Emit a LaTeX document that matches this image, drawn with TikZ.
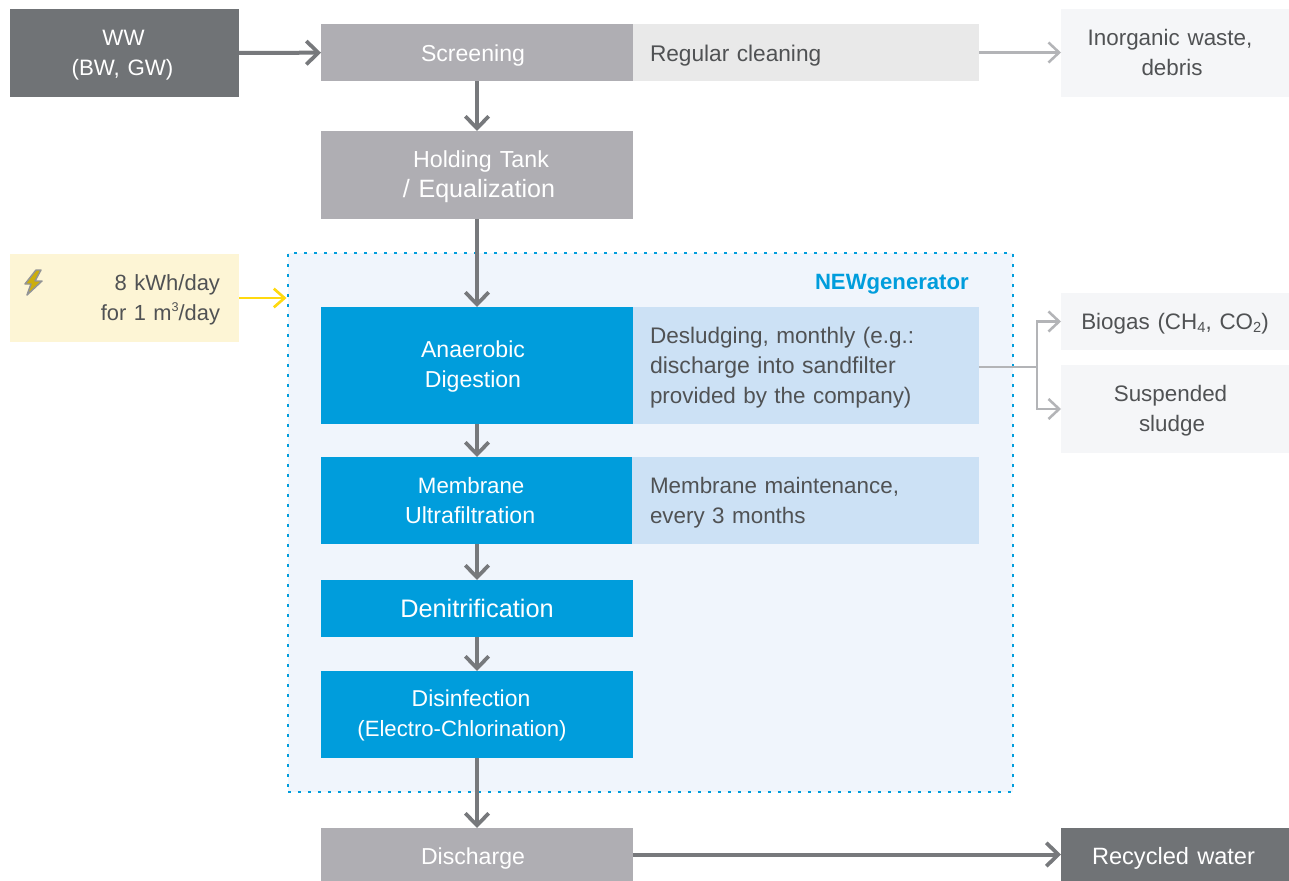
\documentclass[tikz,border=0pt]{standalone}
\usepackage{fontspec}
\setmainfont[WordSpace=1.25]{Liberation Sans}
\usetikzlibrary{arrows.meta}
\definecolor{procgray}{HTML}{AFAEB3}
\definecolor{darkgray}{HTML}{707376}
\definecolor{lightgray}{HTML}{E9E9E9}
\definecolor{palegray}{HTML}{F5F6F8}
\definecolor{cream}{HTML}{FDF5D5}
\definecolor{framefill}{HTML}{F0F5FC}
\definecolor{nblue}{HTML}{009DDC}
\definecolor{paleblue}{HTML}{CCE1F5}
\definecolor{txtgray}{HTML}{505254}
\definecolor{arrgray}{HTML}{77797C}
\definecolor{arrlight}{HTML}{B3B4B7}
\definecolor{arryellow}{HTML}{FFD90F}
\newcommand{\subt}[1]{\raisebox{-0.12em}{\fontsize{11pt}{11pt}\selectfont #1}}
\newcommand{\lne}[3]{\hspace*{#1}\rule[-4.5pt]{0pt}{20pt}{\fontsize{#2}{22.5pt}\selectfont #3}}
% first or only line of a block, moved down with its block by #4
\newcommand{\lnd}[4]{\hspace*{#1}\rule[-4.5pt]{0pt}{\dimexpr20pt+2\dimexpr#4\relax\relax}{\fontsize{#2}{22.5pt}\selectfont #3}}
\tikzset{
  x=0.75pt,y=-0.75pt,
  boxbase/.style={rectangle,inner sep=0pt,outer sep=0pt,align=center,font=\fontsize{16.8pt}{22.5pt}\selectfont},
  procbox/.style={boxbase,fill=procgray,text=white},
  darkbox/.style={boxbase,fill=darkgray,text=white},
  bluebox/.style={boxbase,fill=nblue,text=white},
  notebox/.style={boxbase,align=left,text=txtgray,inner xsep=12.75pt},
  outbox/.style={boxbase,fill=palegray,text=txtgray},
  arr/.style={draw=arrgray,line width=3pt,-{Straight Barb[length=9pt,width=17.5pt,line width=2.8pt]}},
  arrl/.style={draw=arrlight,line width=1.9pt,-{Straight Barb[length=8pt,width=15pt,line width=1.9pt]}},
  linel/.style={draw=arrlight,line width=1.9pt},
  arry/.style={draw=arryellow,line width=2pt,-{Straight Barb[length=8pt,width=14pt,line width=2pt]}},
}
\begin{document}
\begin{tikzpicture}
\useasboundingbox (0,0) rectangle (1289,881);
\fill[white] (0,0) rectangle (1289,881);
% frame
\node[rectangle,draw=nblue,fill=framefill,line width=2.2pt,dash pattern=on 2.2pt off 5.3pt,minimum width=543.75pt,minimum height=404.25pt,inner sep=0pt] (frame) at (650.5,522.5) {};
\node[anchor=east,text=nblue,font=\fontsize{16.6pt}{20pt}\selectfont\bfseries,inner sep=0pt] (title) at (969,284.5) {NEWgenerator};
% left
\node[darkbox,minimum width=171.75pt,minimum height=66pt] (ww) at (124.5,53) {\lne{-1.5pt}{16.7pt}{WW}\\\lne{-3pt}{16.7pt}{(BW, GW)}};
\node[boxbase,fill=cream,text=txtgray,align=right,minimum width=171.75pt,minimum height=66pt,inner xsep=14.25pt,text width=143.25pt] (energy) at (124.5,298) {\lne{0pt}{16.5pt}{8 kWh/day}\\\lne{0pt}{16.4pt}{for 1 m\raisebox{0.42em}{\fontsize{9.5pt}{9.5pt}\selectfont 3}/day}};
% process chain
\node[procbox,minimum width=234pt,minimum height=42.75pt] (screen) at (477,52.5) {\lnd{-6pt}{17.3pt}{Screening}{1.5pt}};
\node[procbox,minimum width=234pt,minimum height=66pt] (hold) at (477,175) {\lne{6pt}{17.4pt}{Holding Tank}\\\lne{3pt}{18.8pt}{/ Equalization}};
\node[bluebox,minimum width=234pt,minimum height=87.75pt] (ana) at (477,365.5) {\lne{-6pt}{17.3pt}{Anaerobic}\\\lne{-6pt}{17.3pt}{Digestion}};
\node[bluebox,minimum width=233.25pt,minimum height=65.25pt] (mem) at (476.5,500.5) {\lnd{-8pt}{16.7pt}{Membrane}{0.75pt}\\\lne{-9.5pt}{17.4pt}{Ultrafiltration}};
\node[bluebox,minimum width=234pt,minimum height=42.75pt] (den) at (477,608.5) {\lnd{0pt}{19pt}{Denitrification}{1.5pt}};
\node[bluebox,minimum width=234pt,minimum height=65.25pt] (dis) at (477,714.5) {\lne{-9pt}{17.2pt}{Disinfection}\\\lne{-22.5pt}{16.6pt}{(Electro-Chlorination)}};
\node[procbox,minimum width=234pt,minimum height=39.75pt] (disch) at (477,854.5) {\lnd{-6pt}{17.3pt}{Discharge}{2.2pt}};
% notes
\node[notebox,fill=lightgray,text width=234pt,minimum height=42.75pt] (clean) at (806,52.5) {\lnd{0pt}{17pt}{Regular cleaning}{1.5pt}};
\node[notebox,fill=paleblue,text width=234pt,minimum height=87.75pt] (desl) at (806,365.5) {\lnd{0pt}{16.9pt}{Desludging, monthly (e.g.:}{0.5pt}\\\lne{0pt}{17.3pt}{discharge into sandfilter}\\\lne{0pt}{16.8pt}{provided by the company)}};
\node[notebox,fill=paleblue,text width=234.75pt,minimum height=65.25pt] (maint) at (805.5,500.5) {\lnd{0.75pt}{16.8pt}{Membrane maintenance,}{0.75pt}\\\lne{0.75pt}{16.8pt}{every 3 months}};
% outputs
\node[outbox,minimum width=171pt,minimum height=66pt] (inorg) at (1175,53) {\lne{-7.5pt}{16.8pt}{Inorganic waste,}\\\lne{-4.5pt}{16.8pt}{debris}};
\node[outbox,minimum width=171pt,minimum height=42.75pt] (bio) at (1175,321.5) {\lnd{0pt}{16.8pt}{Biogas (CH\subt{4}, CO\subt{2})}{0.75pt}};
\node[outbox,minimum width=171pt,minimum height=66pt] (susp) at (1175,409) {\lne{-6.75pt}{16.8pt}{Suspended}\\\lne{-4.5pt}{16.8pt}{sludge}};
\node[darkbox,minimum width=171pt,minimum height=39.75pt] (rec) at (1175,854.5) {\lnd{-2.25pt}{17.7pt}{Recycled water}{2.2pt}};
% bolt
\filldraw[fill=arryellow!80!black,draw=arrgray!80,line width=1.1pt,line join=round] (36,270) -- (25,284) -- (31,284) -- (27,295) -- (42,281) -- (35,281) -- (41,270) -- cycle;
% connectors
\draw[arr] (ww) -- (screen);
\draw[arr] (screen) -- (hold);
\draw[arr] (hold) -- (ana);
\draw[arr] (ana.south) -- (ana.south |- mem.north);
\draw[arr] (mem.south -| den.north) -- (den.north);
\draw[arr] (den) -- (dis);
\draw[arr] (dis) -- (disch);
\draw[arr] (disch) -- (rec);
\draw[arrl] (clean) -- (clean -| inorg.west);
\draw[arry] (energy) -- (energy -| frame.west);
\coordinate (junction) at (1037,367);
\draw[linel] (desl.east |- junction) -- (junction);
\draw[arrl] (junction) |- (bio.west);
\draw[arrl] (junction) |- (susp.west);
\end{tikzpicture}
\end{document}
